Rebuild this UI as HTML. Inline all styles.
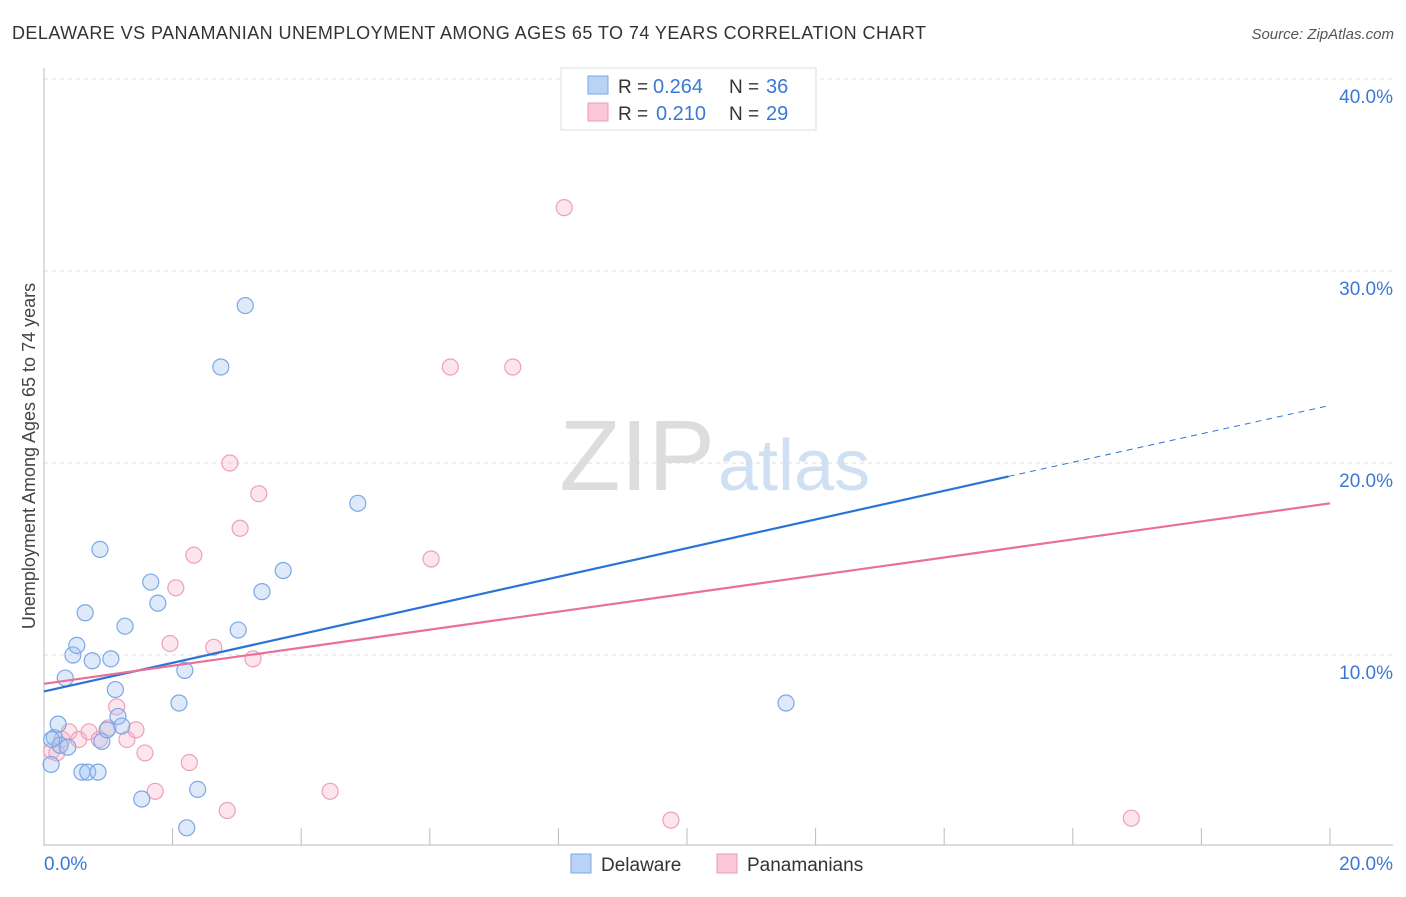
<!DOCTYPE html>
<html><head><meta charset="utf-8"><style>
body{margin:0;background:#fff;font-family:"Liberation Sans",sans-serif}
svg text{font-family:"Liberation Sans",sans-serif}
</style></head><body>
<svg id="c" width="1406" height="892">
<text x="12" y="39" font-size="18" fill="#333" textLength="914">DELAWARE VS PANAMANIAN UNEMPLOYMENT AMONG AGES 65 TO 74 YEARS CORRELATION CHART</text>
<text x="1394" y="39" font-size="15" fill="#555" text-anchor="end" font-style="italic">Source: ZipAtlas.com</text>
<text x="35" y="456" font-size="18" fill="#444" text-anchor="middle" transform="rotate(-90 35 456)">Unemployment Among Ages 65 to 74 years</text>
<text x="715" y="490" font-size="100" fill="#ddd" text-anchor="end" font-family="Liberation Serif">ZIP</text>
<text x="718" y="490" font-size="72" fill="#cfe0f3">atlas</text>
<g id="grid"></g><g id="marks"></g><g id="lines"></g>
<g>
<rect x="561" y="68" width="255" height="62" fill="#fff" stroke="#ddd"/>
<rect x="588" y="76" width="20" height="18" fill="#b8d3f5" stroke="#7aa8e6"/>
<rect x="588" y="103" width="20" height="18" fill="#fac8d7" stroke="#ee9ab3"/>
<text x="618" y="93" font-size="19" fill="#333">R =</text><text x="653" y="93" font-size="20" fill="#3a78d8">0.264</text>
<text x="729" y="93" font-size="19" fill="#333">N =</text><text x="766" y="93" font-size="20" fill="#3a78d8">36</text>
<text x="618" y="120" font-size="19" fill="#333">R =</text><text x="656" y="120" font-size="20" fill="#3a78d8">0.210</text>
<text x="729" y="120" font-size="19" fill="#333">N =</text><text x="766" y="120" font-size="20" fill="#3a78d8">29</text>
</g>
<g>
<rect x="571" y="854" width="20" height="19" fill="#b8d3f5" stroke="#7aa8e6"/>
<text x="601" y="871" font-size="19" fill="#333">Delaware</text>
<rect x="717" y="854" width="20" height="19" fill="#fac8d7" stroke="#ee9ab3"/>
<text x="747" y="871" font-size="19" fill="#333">Panamanians</text>
</g>
</svg>
<script>
const yTicks=[10,20,30,40];
const yTickLabels=["10.0%","20.0%","30.0%","40.0%"];
const xTickLabels=["0.0%","20.0%"];
const delX=[0.11,0.16,0.22,0.25,0.33,0.37,0.45,0.51,0.64,0.59,0.68,0.75,0.84,0.87,0.90,1.04,1.11,1.15,1.21,1.26,1.52,1.66,1.77,2.10,2.19,2.22,2.39,2.75,3.02,3.13,3.39,3.72,4.88,11.54,0.98,0.12];
const delY=[4.3,5.7,6.4,5.3,8.8,5.2,10.0,10.5,12.2,3.9,3.9,9.7,3.9,15.5,5.5,9.8,8.2,6.8,6.3,11.5,2.5,13.8,12.7,7.5,9.2,1.0,3.0,25.0,11.3,28.2,13.3,14.4,17.9,7.5,6.1,5.6];
const panX=[0.12,0.20,0.28,0.39,0.54,0.70,0.86,1.00,1.13,1.29,1.43,1.57,1.73,2.05,2.26,2.33,1.96,2.64,2.85,2.89,3.05,3.25,3.34,4.45,6.02,6.32,7.29,8.09,9.75,16.91];
const panY=[5.0,4.9,5.6,6.0,5.6,6.0,5.6,6.2,7.3,5.6,6.1,4.9,2.9,13.5,4.4,15.2,10.6,10.4,1.9,20.0,16.6,9.8,18.4,2.9,15.0,25.0,25.0,33.3,1.4,1.5];
const delLine=[[0,8.1],[15.0,19.3],[20,23.0]];
const panLine=[[0,8.5],[20,17.9]];
const X=v=>44+v*64.3, Y=v=>847-v*19.2;
const NS="http://www.w3.org/2000/svg";
function mk(t,a,p){const e=document.createElementNS(NS,t);for(const k in a)e.setAttribute(k,a[k]);p.appendChild(e);return e;}
const grid=document.getElementById('grid'),marks=document.getElementById('marks'),lines=document.getElementById('lines');
yTicks.forEach((t,i)=>{
 const l=mk('line',{x1:44,x2:1393,y1:Y(t),y2:Y(t),stroke:'#ddd','stroke-dasharray':'4,4'},grid);
 
 
 const tx=mk('text',{x:1393,y:Y(t)+24,'font-size':19,fill:'#3a78d8','text-anchor':'end'},grid);tx.textContent=yTickLabels[i];
 
 
});
mk('line',{x1:44,x2:44,y1:68,y2:846,stroke:'#bbb'},grid);
mk('line',{x1:44,x2:1393,y1:845,y2:845,stroke:'#bbb'},grid);
for(let i=0;i<=10;i++){mk('line',{x1:X(i*2),x2:X(i*2),y1:828,y2:845,stroke:'#bbb'},grid);}
[[0,'start'],[20,'end']].forEach((d,i)=>{const tx=mk('text',{x:i?1393:44,y:870,'font-size':19,fill:'#3a78d8','text-anchor':d[1]},grid);tx.textContent=xTickLabels[i];
 
 });
panX.forEach((v,i)=>{const c=mk('circle',{cx:X(v),cy:Y(panY[i]),r:8,fill:'rgba(247,180,200,0.35)',stroke:'#eea0b8','stroke-width':1.2},marks);
 
 });
delX.forEach((v,i)=>{const c=mk('circle',{cx:X(v),cy:Y(delY[i]),r:8,fill:'rgba(160,195,240,0.35)',stroke:'#7aa8e6','stroke-width':1.2},marks);
 
 });
let l1=mk('line',{x1:X(delLine[0][0]),y1:Y(delLine[0][1]),x2:X(delLine[1][0]),y2:Y(delLine[1][1]),stroke:'#2b74d6','stroke-width':2.2},lines);


let l2=mk('line',{x1:X(delLine[1][0]),y1:Y(delLine[1][1]),x2:X(delLine[2][0]),y2:Y(delLine[2][1]),stroke:'#2b74d6','stroke-width':1,'stroke-dasharray':'6,5'},lines);


let l3=mk('line',{x1:X(panLine[0][0]),y1:Y(panLine[0][1]),x2:X(panLine[1][0]),y2:Y(panLine[1][1]),stroke:'#e8709a','stroke-width':2.2},lines);


</script>
</body></html>
